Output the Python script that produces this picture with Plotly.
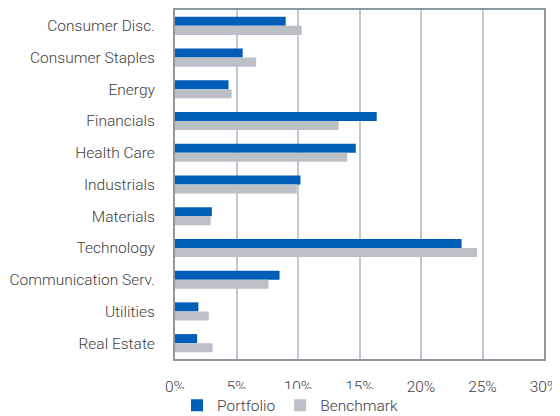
import plotly.graph_objects as go

categories = ["Consumer Disc.", "Consumer Staples", "Energy", "Financials", "Health Care",
              "Industrials", "Materials", "Technology", "Communication Serv.", "Utilities", "Real Estate"]
portfolio = [9.0, 5.5, 4.35, 16.4, 14.7, 10.2, 3.0, 23.3, 8.5, 1.9, 1.8]
benchmark = [10.3, 6.6, 4.6, 13.3, 14.0, 9.9, 2.9, 24.55, 7.6, 2.75, 3.05]
tick_vals = [0, 5, 10, 15, 20, 25, 30]
tick_text = ["0%", "5%", "10%", "15%", "20%", "25%", "30%"]

font_family = "Roboto, Liberation Sans, sans-serif"
text_color = "#404040"

fig = go.Figure()
fig.add_trace(go.Bar(y=categories, x=portfolio, name="Portfolio", orientation="h",
                     marker=dict(color="#005EB8", line=dict(width=0))))
fig.add_trace(go.Bar(y=categories, x=benchmark, name="Benchmark", orientation="h",
                     marker=dict(color="#BAC0C6", line=dict(width=0))))

fig.update_layout(
    width=552, height=408,
    margin=dict(l=167, r=16, t=2, b=57, autoexpand=False),
    barmode="group", bargap=0.43, bargroupgap=0,
    plot_bgcolor="white", paper_bgcolor="white",
    font=dict(family=font_family, size=15.5, color=text_color, weight=300),
    legend=dict(orientation="h", x=0.313, xanchor="center", y=-0.134, yanchor="middle",
                font=dict(size=15.5, color=text_color, weight=300), itemwidth=30,
                tracegroupgap=0),
    xaxis=dict(range=[0, 30], tickvals=tick_vals, ticktext=tick_text,
               showgrid=True, gridcolor="#C3C8CE", gridwidth=1.5,
               showline=True, linecolor="#8E98A2", linewidth=2, mirror=True,
               zeroline=False, ticks="", ticklabelstandoff=12, automargin=False),
    yaxis=dict(autorange="reversed", showgrid=False,
               showline=True, linecolor="#8E98A2", linewidth=2, mirror=True,
               ticks="", ticklabelstandoff=15, automargin=False),
)

fig.write_html("out.html")
